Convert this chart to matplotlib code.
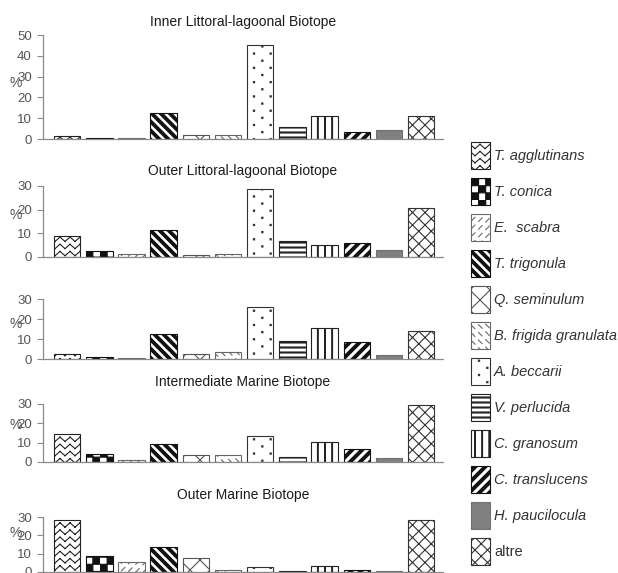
import numpy as np
import matplotlib
matplotlib.use("Agg")
import matplotlib.pyplot as plt
import matplotlib.hatch as mhatch
from matplotlib.path import Path

# ---------------- data ----------------
species = ["T. agglutinans", "T. conica", "E.  scabra", "T. trigonula", "Q. seminulum",
           "B. frigida granulata", "A. beccarii", "V. perlucida", "C. granosum",
           "C. translucens", "H. paucilocula", "altre"]
panel_titles = ["Inner Littoral-lagoonal Biotope", "Outer Littoral-lagoonal Biotope", "",
                "Intermediate Marine Biotope", "Outer Marine Biotope"]
inner_littoral = [1.6, 0.3, 0.6, 12.3, 2.1, 1.9, 45.2, 5.6, 11.2, 3.4, 4.2, 11.2]
outer_littoral = [9.0, 2.4, 1.4, 11.4, 1.0, 1.3, 28.9, 6.8, 5.1, 6.1, 3.1, 20.8]
unlabelled = [2.7, 0.8, 0.3, 12.5, 2.5, 3.3, 25.8, 9.2, 15.5, 8.5, 1.8, 13.8]
intermediate_marine = [14.7, 4.2, 1.2, 9.3, 3.4, 3.6, 13.4, 2.5, 10.3, 6.8, 2.0, 29.7]
outer_marine = [28.1, 8.8, 5.7, 13.4, 7.4, 1.2, 2.8, 0.7, 3.1, 1.0, 0.7, 28.6]
panel_values = [inner_littoral, outer_littoral, unlabelled, intermediate_marine, outer_marine]
y_max = [50, 30, 30, 30, 30]
y_tick_step = 10

# ---------------- custom hatch patterns ----------------
def _segments(segs):
    v, c = [], []
    for x0, y0, x1, y1 in segs:
        v += [(x0, y0), (x1, y1)]
        c += [Path.MOVETO, Path.LINETO]
    return np.array(v, float), np.array(c, Path.code_type)

def _polys(polys):
    v, c = [], []
    for p in polys:
        v += list(p) + [p[0]]
        c += [Path.MOVETO] + [Path.LINETO] * (len(p) - 1) + [Path.CLOSEPOLY]
    return np.array(v, float), np.array(c, Path.code_type)

def zigzag():
    segs = []
    n, half = 14, 0.05
    for j in range(n):
        y0 = (j + 0.5) / n
        xs = np.arange(0, 1 + 1e-9, half)
        ys = [y0 + (0.022 if k % 2 == 0 else -0.022) for k in range(len(xs))]
        for k in range(len(xs) - 1):
            segs.append((xs[k], ys[k], xs[k + 1], ys[k + 1]))
    return _segments(segs)

def checker():
    n = 14
    polys = []
    for i in range(n):
        for j in range(n):
            if (i + j) % 2 == 0:
                x0, y0, s = i / n, j / n, 1 / n
                polys.append([(x0, y0), (x0 + s, y0), (x0 + s, y0 + s), (x0, y0 + s)])
    return _polys(polys)

def stripes(n, w, direction):
    polys = []
    for k in range(-2 * n, 3 * n):
        c = k / n
        if direction > 0:   # '/'
            polys.append([(-1, -1 + c), (2, 2 + c), (2 + w, 2 + c), (-1 + w, -1 + c)])
        else:               # '\'
            polys.append([(-1, 1 + c), (2, -2 + c), (2 + w, -2 + c), (-1 + w, 1 + c)])
    return _polys(polys)

def dashes(n, m, dl, direction):
    segs = []
    for k in range(-n, 2 * n):
        c = k / n
        for t in range(m):
            x0 = t / m
            if direction > 0:
                segs.append((x0, x0 + c, x0 + dl, x0 + dl + c))
            else:
                segs.append((x0, c - x0, x0 + dl, c - x0 - dl))
    return _segments(segs)

def lattice(n):
    segs = []
    for k in range(-n, 2 * n):
        c = k / n
        segs.append((-1, -1 + c, 2, 2 + c))
        segs.append((-1, 1 + c, 2, -2 + c))
    return _segments(segs)

def dots():
    rows, cols, s = 14, 6, 0.006
    polys = []
    for j in range(rows):
        for i in range(cols):
            x = (i + (0.5 if j % 2 else 0.0)) / cols + 0.04
            y = (j + 0.5) / rows
            polys.append([(x - s, y - s), (x + s, y - s), (x + s, y + s), (x - s, y + s)])
    return _polys(polys)

def hlines(n, t):
    polys = []
    for j in range(n):
        y = (j + 0.5) / n
        polys.append([(-0.1, y - t), (1.1, y - t), (1.1, y + t), (-0.1, y + t)])
    return _polys(polys)

def vlines(n, t):
    polys = []
    for i in range(n):
        x = (i + 0.5) / n
        polys.append([(x - t, -0.1), (x + t, -0.1), (x + t, 1.1), (x - t, 1.1)])
    return _polys(polys)

_builders = {
    "*": zigzag,
    "O": checker,
    "/": lambda: dashes(13, 14, 0.035, +1),
    "\\": lambda: stripes(11, 0.038, -1),
    "X": lambda: lattice(5),
    "o": lambda: dashes(13, 14, 0.035, -1),
    ".": dots,
    "-": lambda: hlines(20, 0.005),
    "|": lambda: vlines(14, 0.004),
    "+": lambda: stripes(10, 0.04, +1),
    "x": lambda: lattice(8),
}

def _make_hatch_class(ch, builder):
    class _H(mhatch.HatchPatternBase):
        def __init__(self, hatch, density):
            if ch in hatch:
                self._v, self._c = builder()
                self.num_vertices = len(self._v)
            else:
                self.num_vertices = 0
        def set_vertices_and_codes(self, vertices, codes):
            vertices[:] = self._v
            codes[:] = self._c
    return _H

mhatch._hatch_types[:] = [_make_hatch_class(ch, b) for ch, b in _builders.items()]

# styles per species
hatches = ["*", "O", "/", "\\", "X", "o", ".", "-", "|", "+", None, "x"]
faces = ["white"] * 10 + ["#808080", "white"]
edges = ["#222222", "#111111", "#6a6a6a", "#111111", "#555555", "#666666",
         "#333333", "#222222", "#222222", "#111111", "#707070", "#333333"]

plt.rcParams["font.family"] = ["Liberation Sans", "DejaVu Sans"]
plt.rcParams["hatch.linewidth"] = 0.8

W, H = 618, 573
fig = plt.figure(figsize=(W / 100, H / 100), dpi=100)
fig.patch.set_facecolor("white")

axes_px = [(35, 139), (186, 257), (299, 359), (404, 462), (517, 572)]
title_pad = [6.8, 7.6, 0, 13.3, 13.0]
pct_y = [0.54, 0.59, 0.58, 0.64, 0.71]
left_px, right_px = 43, 443

x = np.arange(len(species))
first_bars = None
for k, ((top, bot), vals) in enumerate(zip(axes_px, panel_values)):
    ax = fig.add_axes([left_px / W, 1 - bot / H, (right_px - left_px) / W, (bot - top) / H])
    bars = ax.bar(x, vals, width=0.82, color=faces, edgecolor=edges, linewidth=0.8)
    for b, h in zip(bars, hatches):
        if h:
            b.set_hatch(h)
    if first_bars is None:
        first_bars = bars
    ax.set_xlim(-0.75, len(species) - 1 + 0.68)
    ax.set_ylim(0, y_max[k])
    ax.set_yticks(np.arange(0, y_max[k] + 1, y_tick_step))
    ax.set_xticks([])
    for s in ["top", "right"]:
        ax.spines[s].set_visible(False)
    for s in ["left", "bottom"]:
        ax.spines[s].set_color("#8a8a8a")
        ax.spines[s].set_linewidth(0.9)
    ax.tick_params(axis="y", direction="out", length=4, width=0.8, color="#8a8a8a",
                   labelsize=9.5, labelcolor="#555555", pad=4)
    ax.patch.set_alpha(0)
    if panel_titles[k]:
        ax.set_title(panel_titles[k], fontsize=10, color="#1a1a1a", pad=title_pad[k])
    ax.text((16 - left_px) / (right_px - left_px), pct_y[k], "%", transform=ax.transAxes,
            ha="center", va="center", fontsize=10, color="#555555")

fs = 10.5
leg = fig.legend(list(first_bars), species, loc="upper left",
                 bbox_to_anchor=(471 / W, 1 - 142 / H), frameon=False,
                 fontsize=fs, handlelength=1.3, handleheight=2.47,
                 labelspacing=0.62, handletextpad=0.28, borderpad=0, borderaxespad=0)
for t in leg.get_texts():
    t.set_fontstyle("italic" if t.get_text() != "altre" else "normal")
    t.set_color("#333333")

fig.savefig("out.png", dpi=100)
